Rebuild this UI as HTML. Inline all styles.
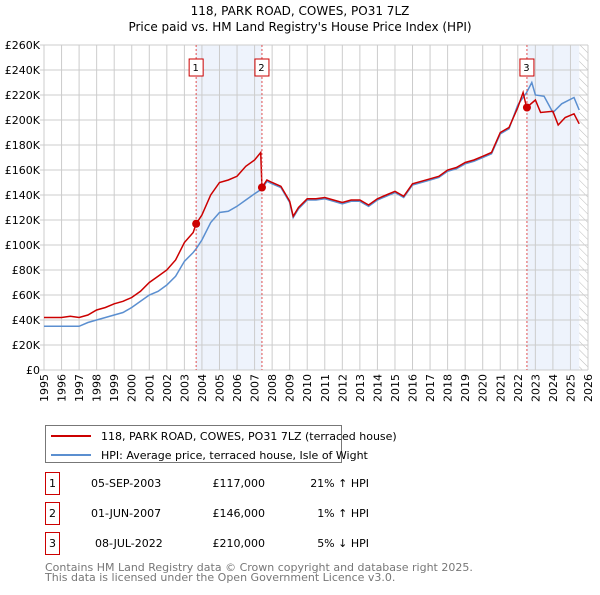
<!DOCTYPE html>
<html><head><meta charset="utf-8"><style>
body{margin:0;background:#fff;width:600px;height:590px;overflow:hidden;font-family:"Liberation Sans","DejaVu Sans",sans-serif}
svg text{font-family:"DejaVu Sans","Liberation Sans",sans-serif}
</style></head><body>
<svg width="600" height="590" viewBox="0 0 600 590">
<defs><pattern id="hatch" width="6" height="6" patternUnits="userSpaceOnUse" patternTransform="rotate(-45)"><line x1="0" y1="0" x2="0" y2="6" stroke="#bbb" stroke-width="1"/></pattern></defs>
<text x="300" y="15" text-anchor="middle" font-size="12">118, PARK ROAD, COWES, PO31 7LZ</text>
<text x="300" y="31" text-anchor="middle" font-size="12">Price paid vs. HM Land Registry's House Price Index (HPI)</text>
<g id="bg"></g><g id="grid"></g><g id="axes"></g><g id="lines"></g><g id="marks"></g>
<g>
<rect x="45.5" y="425.5" width="296" height="37" fill="#fff" stroke="#777"/>
<line x1="51" y1="436" x2="91" y2="436" stroke="#cc0000" stroke-width="2"/>
<text x="101" y="440" font-size="11">118, PARK ROAD, COWES, PO31 7LZ (terraced house)</text>
<line x1="51" y1="455" x2="91" y2="455" stroke="#5b8fd0" stroke-width="2"/>
<text x="101" y="459" font-size="11">HPI: Average price, terraced house, Isle of Wight</text>
</g>
<g id="table" font-size="11"></g>
<text x="45" y="571" font-size="11" fill="#777">Contains HM Land Registry data © Crown copyright and database right 2025.</text>
<text x="45" y="581" font-size="11" fill="#777">This data is licensed under the Open Government Licence v3.0.</text>
</svg>
<script>
const redT=[1995,1996,1996.5,1997,1997.5,1998,1998.5,1999,1999.5,2000,2000.5,2001,2001.5,2002,2002.5,2003,2003.5,2003.67,2004,2004.5,2005,2005.5,2006,2006.5,2007,2007.35,2007.42,2007.7,2008,2008.5,2009,2009.2,2009.5,2010,2010.5,2011,2011.5,2012,2012.5,2013,2013.5,2014,2014.5,2015,2015.5,2016,2016.5,2017,2017.5,2018,2018.5,2019,2019.5,2020,2020.5,2021,2021.5,2022,2022.3,2022.5,2023,2023.3,2024,2024.3,2024.7,2025.2,2025.5];
const redV=[42,42,43,42,44,48,50,53,55,58,63,70,75,80,88,102,110,117,124,140,150,152,155,163,168,174,146,152,150,147,135,123,130,137,137,138,136,134,136,136,132,137,140,143,139,149,151,153,155,160,162,166,168,171,174,190,194,210,222,210,216,206,207,196,202,205,197];
const hpiT=[1995,1996,1997,1997.5,1998,1998.5,1999,1999.5,2000,2000.5,2001,2001.5,2002,2002.5,2003,2003.5,2003.67,2004,2004.5,2005,2005.5,2006,2006.5,2007,2007.42,2007.7,2008,2008.5,2009,2009.2,2009.5,2010,2010.5,2011,2011.5,2012,2012.5,2013,2013.5,2014,2014.5,2015,2015.5,2016,2016.5,2017,2017.5,2018,2018.5,2019,2019.5,2020,2020.5,2021,2021.5,2022,2022.5,2022.8,2023,2023.5,2024,2024.5,2025.2,2025.5];
const hpiV=[35,35,35,38,40,42,44,46,50,55,60,63,68,75,87,94,97,104,118,126,127,131,136,141,145,151,149,146,134,122,129,136,136,137,135,133,135,135,131,136,139,142,138,148,150,152,154,159,161,165,167,170,173,189,193,212,222,230,220,219,206,213,218,208];
const sales=[{n:"1",t:2003.67,v:117,date:"05-SEP-2003",price:"£117,000",hpi:"21% ↑ HPI"},{n:"2",t:2007.42,v:146,date:"01-JUN-2007",price:"£146,000",hpi:"1% ↑ HPI"},{n:"3",t:2022.52,v:210,date:"08-JUL-2022",price:"£210,000",hpi:"5% ↓ HPI"}];
const yTicks=[0,20,40,60,80,100,120,140,160,180,200,220,240,260];
const NS="http://www.w3.org/2000/svg";
const X0=44,X1=588,Y0=370,Y1=45;
const sx=t=>X0+(t-1995)*(X1-X0)/31, sy=v=>Y0-v*(Y0-Y1)/260;
function mk(p,tag,a){const e=document.createElementNS(NS,tag);for(const k in a)e.setAttribute(k,a[k]);document.getElementById(p).appendChild(e);return e;}
let e=mk('bg','rect',{x:sx(sales[0].t),y:Y1,width:sx(sales[1].t)-sx(sales[0].t),height:Y0-Y1,fill:'#eef3fc'});


e=mk('bg','rect',{x:sx(sales[2].t),y:Y1,width:sx(2025.5)-sx(sales[2].t),height:Y0-Y1,fill:'#eef3fc'});


e=mk('bg','rect',{x:sx(2025.5),y:Y1,width:sx(2026)-sx(2025.5),height:Y0-Y1,fill:'url(#hatch)'});


for(let y=1995;y<=2026;y++){
 e=mk('grid','line',{x1:sx(y),x2:sx(y),y1:Y1,y2:Y0,stroke:'#ccc','stroke-width':1});
 
 
 e=mk('axes','text',{x:0,y:0,'font-size':11,'text-anchor':'end',transform:`translate(${sx(y)+4},374) rotate(-90)`});
 e.textContent=y;
 
 
}
yTicks.forEach(v=>{
 e=mk('grid','line',{x1:X0-4,x2:X1,y1:sy(v),y2:sy(v),stroke:'#ccc','stroke-width':1});
 
 
 e=mk('axes','text',{x:40,y:sy(v)+4,'font-size':11,'text-anchor':'end'});
 e.textContent=v===0?'£0':'£'+v+'K';
 
 
});
const pts=(T,V)=>T.map((t,i)=>sx(t).toFixed(1)+','+sy(V[i]).toFixed(1)).join(' ');
e=mk('lines','polyline',{points:pts(hpiT,hpiV),fill:'none',stroke:'#5b8fd0','stroke-width':1.5});


e=mk('lines','polyline',{points:pts(redT,redV),fill:'none',stroke:'#cc0000','stroke-width':1.5});


sales.forEach((s,i)=>{
 const x=sx(s.t);
 e=mk('marks','line',{x1:x,x2:x,y1:Y1,y2:Y0,stroke:'#e05050','stroke-dasharray':'2,2','stroke-width':1});
 
 
 e=mk('marks','rect',{x:x-7,y:59,width:14,height:17,fill:'#fff',stroke:'#cc0000'});
 
 
 e=mk('marks','text',{x:x-0.5,y:71,'font-size':10,'text-anchor':'middle'});
 e.textContent=s.n;
 
 
 e=mk('marks','circle',{cx:x,cy:sy(s.v),r:4,fill:'#cc0000'});
 
 
 const ry=483+i*30;
 e=mk('table','rect',{x:45.5,y:ry-10.5,width:14,height:22,fill:'#fff',stroke:'#cc0000'});
 
 
 e=mk('table','text',{x:52.5,y:ry+4,'text-anchor':'middle'});
 e.textContent=s.n;
 
 
 e=mk('table','text',{x:i==2?95:91,y:ry+4});
 e.textContent=s.date;
 
 
 e=mk('table','text',{x:265,y:ry+4,'text-anchor':'end'});
 e.textContent=s.price;
 
 
 e=mk('table','text',{x:369,y:ry+4,'text-anchor':'end'});
 e.textContent=s.hpi;
 
 
});
</script>
</body></html>
